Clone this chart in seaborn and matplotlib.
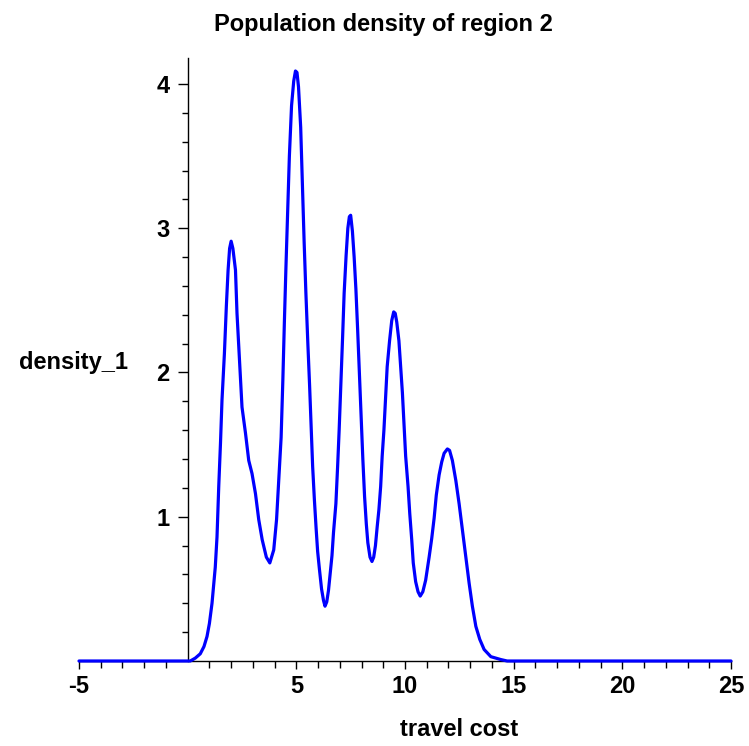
import matplotlib
matplotlib.use("Agg")
import matplotlib.pyplot as plt
import seaborn as sns
import pandas as pd
from matplotlib.ticker import FixedLocator

# ---- data ----
travel_cost = [-5, 0.0, 0.12, 0.35, 0.58, 0.75, 0.89, 1.0, 1.12, 1.27, 1.35, 1.43, 1.51, 1.58,
               1.69, 1.78, 1.86, 1.93, 2.0, 2.08, 2.2, 2.27, 2.40, 2.50, 2.66, 2.81, 2.96, 3.12,
               3.27, 3.43, 3.62, 3.78, 3.96, 4.09, 4.19, 4.30, 4.38, 4.45, 4.52, 4.60, 4.68, 4.78,
               4.88, 4.96, 5.03, 5.10, 5.20, 5.28, 5.36, 5.44, 5.53, 5.61, 5.68, 5.75, 5.83, 5.91,
               5.98, 6.06, 6.16, 6.25, 6.32, 6.40, 6.48, 6.56, 6.64, 6.71, 6.82, 6.90, 6.97, 7.05,
               7.13, 7.20, 7.29, 7.37, 7.44, 7.50, 7.58, 7.66, 7.74, 7.82, 7.90, 7.98, 8.06, 8.14,
               8.22, 8.29, 8.39, 8.48, 8.56, 8.64, 8.72, 8.80, 8.88, 8.95, 9.03, 9.11, 9.18, 9.29,
               9.39, 9.48, 9.55, 9.62, 9.72, 9.80, 9.88, 9.95, 10.03, 10.14, 10.22, 10.31, 10.38,
               10.49, 10.60, 10.70, 10.82, 10.95, 11.11, 11.23, 11.34, 11.44, 11.57, 11.69, 11.80,
               11.95, 12.05, 12.18, 12.34, 12.49, 12.64, 12.80, 12.95, 13.10, 13.26, 13.44, 13.64,
               13.95, 14.41, 14.70, 25]
density_1 = [0, 0, 0, 0.02, 0.05, 0.10, 0.17, 0.26, 0.40, 0.65, 0.86, 1.21, 1.51, 1.81,
             2.13, 2.46, 2.71, 2.86, 2.91, 2.86, 2.71, 2.41, 2.04, 1.76, 1.58, 1.39, 1.30, 1.16,
             0.98, 0.84, 0.72, 0.68, 0.77, 0.98, 1.25, 1.55, 1.95, 2.35, 2.72, 3.10, 3.50, 3.85,
             4.02, 4.09, 4.08, 3.98, 3.70, 3.30, 2.90, 2.55, 2.20, 1.91, 1.62, 1.35, 1.12, 0.92,
             0.76, 0.64, 0.50, 0.42, 0.38, 0.41, 0.49, 0.61, 0.73, 0.89, 1.09, 1.35, 1.60, 1.92,
             2.25, 2.55, 2.81, 3.00, 3.08, 3.09, 2.98, 2.80, 2.58, 2.30, 2.00, 1.70, 1.40, 1.14,
             0.95, 0.82, 0.72, 0.69, 0.72, 0.80, 0.93, 1.05, 1.21, 1.42, 1.60, 1.83, 2.04, 2.22,
             2.36, 2.42, 2.41, 2.35, 2.22, 2.04, 1.86, 1.65, 1.42, 1.21, 1.02, 0.84, 0.68,
             0.55, 0.48, 0.45, 0.48, 0.56, 0.72, 0.85, 0.99, 1.15, 1.29, 1.38, 1.44,
             1.47, 1.46, 1.39, 1.25, 1.09, 0.91, 0.72, 0.54, 0.38, 0.24, 0.15, 0.08,
             0.03, 0.01, 0, 0]

x_major_ticks = [-5, 5, 10, 15, 20, 25]
x_minor_ticks = [v for v in range(-5, 26) if v not in x_major_ticks and v != 0]
y_major_ticks = [1, 2, 3, 4]
y_minor_ticks = [round(0.2 * k, 1) for k in range(1, 21) if k % 5 != 0]

title_text = "Population density of region 2"
xlabel_text = "travel cost"
ylabel_text = "density_1"

# ---- styling ----
sns.set_style("white")
plt.rcParams["font.family"] = ["Liberation Sans", "DejaVu Sans"]
plt.rcParams["axes.unicode_minus"] = False

fig = plt.figure(figsize=(7.49, 7.46), dpi=100)
ax = fig.add_axes([79 / 749, 1 - 661 / 746, 652 / 749, 603 / 746])

df = pd.DataFrame({"travel cost": travel_cost, "density_1": density_1})
sns.lineplot(data=df, x="travel cost", y="density_1", color="#0000ff",
             linewidth=2.3, ax=ax, zorder=3)
for ln in ax.lines:
    ln.set_clip_on(False)

ax.set_xlim(-5, 25)
ax.set_ylim(0, 4.18)
ax.set_xlabel("")
ax.set_ylabel("")

ax.spines["left"].set_position(("data", 0))
ax.spines["top"].set_visible(False)
ax.spines["right"].set_visible(False)
for s in ("left", "bottom"):
    ax.spines[s].set_color("black")
    ax.spines[s].set_linewidth(1.0)

ax.xaxis.set_major_locator(FixedLocator(x_major_ticks))
ax.xaxis.set_minor_locator(FixedLocator(x_minor_ticks))
ax.yaxis.set_major_locator(FixedLocator(y_major_ticks))
ax.yaxis.set_minor_locator(FixedLocator(y_minor_ticks))

ax.tick_params(axis="x", which="major", direction="out", length=6, width=1,
               color="black", labelsize=17, pad=4, bottom=True, labelcolor="black")
ax.tick_params(axis="x", which="minor", direction="out", length=5, width=1,
               color="black", bottom=True)
ax.tick_params(axis="y", which="major", direction="out", length=7, width=1,
               color="black", labelsize=17, pad=6, left=True, labelcolor="black")
ax.tick_params(axis="y", which="minor", direction="out", length=4, width=1,
               color="black", left=True)
for lab in ax.get_xticklabels() + ax.get_yticklabels():
    lab.set_fontweight("bold")

fig.text(383 / 749, 1 - 25 / 746, title_text, ha="center", va="center",
         fontsize=17, fontweight="bold", color="black")
fig.text(73 / 749, 1 - 363 / 746, ylabel_text, ha="center", va="center",
         fontsize=17, fontweight="bold", color="black")
fig.text(459 / 749, 1 - 730 / 746, xlabel_text, ha="center", va="center",
         fontsize=17, fontweight="bold", color="black")

fig.savefig("out.png", dpi=100)
